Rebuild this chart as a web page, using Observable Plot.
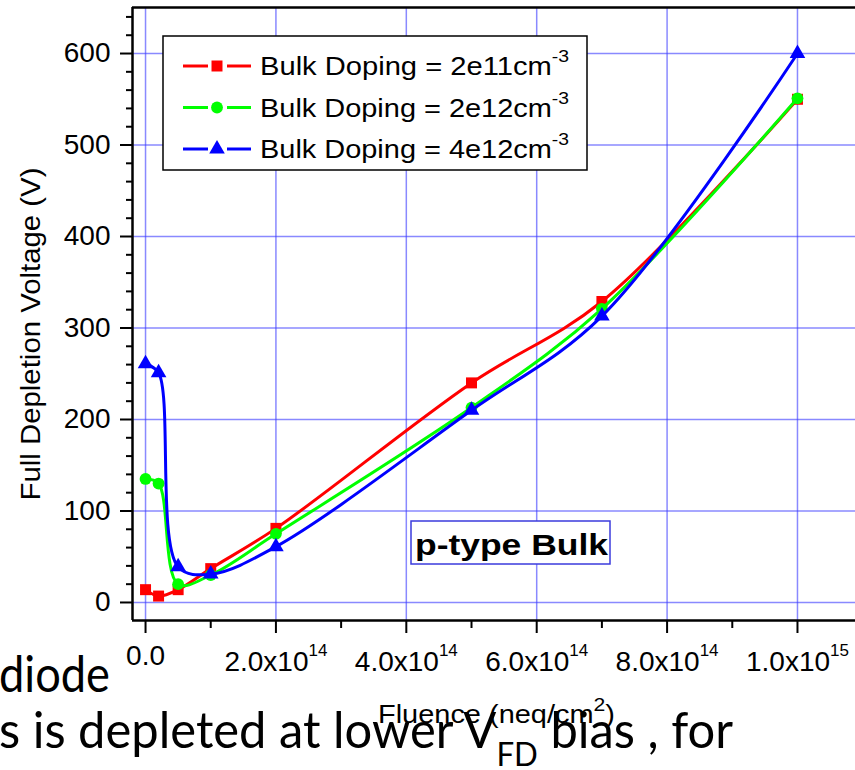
<!DOCTYPE html>
<html><head><meta charset="utf-8">
<script src="https://cdn.jsdelivr.net/npm/d3@7"></script>
<script src="https://cdn.jsdelivr.net/npm/@observablehq/plot@0.6"></script>
<style>
body{margin:0;background:#fff;}
#chart{position:relative;width:855px;height:770px;overflow:hidden;}
</style></head><body><div id="chart"></div>
<script>
// ---- data ----
const fluence    = [0, 2e13, 5e13, 1e14, 2e14, 5e14, 7e14, 1e15];
const doping2e11 = [14, 7, 14, 37, 81, 240, 329, 550];
const doping2e12 = [135, 130, 20, 30, 75, 213, 321, 551];
const doping4e12 = [261, 251, 39, 31, 61, 210, 313, 600];
const seriesNames   = ["Bulk Doping = 2e11cm", "Bulk Doping = 2e12cm", "Bulk Doping = 4e12cm"];
const seriesSup     = "-3";
const seriesColors  = ["#ff0000", "#00ff00", "#0000ff"];
const seriesSymbols = ["square", "circle", "triangle"];
const seriesR       = [6.2, 5.9, 5.8];
const xTicks      = [0, 2e14, 4e14, 6e14, 8e14, 1e15];
const xTickLabels = ["0.0", "2.0x10^14", "4.0x10^14", "6.0x10^14", "8.0x10^14", "1.0x10^15"];
const xMinorTicks = [1e14, 3e14, 5e14, 7e14, 9e14];
const yTicks      = [0, 100, 200, 300, 400, 500, 600];
const yMinorTicks = d3.range(20, 650, 20).filter(v => v % 100 !== 0);
const xDomain = [-2e13, 1.089e15];
const yDomain = [-19.7, 650.3];
const yTitle = "Full Depletion Voltage (V)";
const xTitle = ["Fluence (neq/cm", "2", ")"];
const annotation = "p-type Bulk";
const slideLine1 = "diode";
const slideLine2 = ["s is depleted at lower V", "FD", " bias , for"];

const allValues = [doping2e11, doping2e12, doping4e12];
const series = allValues.map((vals, s) => fluence.map((f, i) => ({s, x: f, y: vals[i]})));

const FONT = "'Liberation Sans', Arial, sans-serif";
const gridStyle = {stroke: "#3a3aff", strokeOpacity: 0.6, strokeWidth: 1.5};

const marks = [
  Plot.gridX(xTicks, gridStyle),
  Plot.gridY(yTicks, gridStyle),
];
series.forEach((d, s) => {
  marks.push(Plot.line(d, {x: "x", y: "y", stroke: seriesColors[s], strokeWidth: 3, curve: "catmull-rom"}));
  marks.push(Plot.dot(d, {x: "x", y: "y", symbol: () => seriesSymbols[s], fill: seriesColors[s], r: seriesR[s]}));
});
marks.push(
  Plot.axisY(yTicks, {tickSize: 12, tickPadding: 10, fontSize: 28, strokeWidth: 2, label: null, tickFormat: d => String(d)}),
  Plot.axisY(yMinorTicks, {tickSize: 6, strokeWidth: 2, label: null, tickFormat: () => ""}),
  Plot.axisX(xTicks, {tickSize: 13, tickPadding: 12, fontSize: 28, strokeWidth: 2, label: null, tickFormat: d => xTickLabels[xTicks.indexOf(d)]}),
  Plot.axisX(xMinorTicks, {tickSize: 8, strokeWidth: 2, label: null, tickFormat: () => ""}),
  Plot.ruleX([xDomain[0]], {strokeWidth: 2.5}),
  Plot.ruleY([yDomain[0]], {strokeWidth: 2.5}),
  Plot.ruleY([yDomain[1]], {strokeWidth: 2.5})
);

const plot = Plot.plot({
  width: 855, height: 770,
  marginLeft: 132, marginRight: 0, marginTop: 7, marginBottom: 150,
  x: {domain: xDomain},
  y: {domain: yDomain},
  style: {fontFamily: FONT, color: "black", background: "white", overflow: "hidden"},
  marks
});
document.getElementById("chart").appendChild(plot);

const svg = d3.select(plot);

// superscripts in x tick labels
svg.selectAll("text").each(function () {
  const t = this.textContent;
  if (t.includes("^")) {
    const [base, sup] = t.split("^");
    const el = d3.select(this);
    el.text("");
    el.append("tspan").attr("dy", 6).text(base);
    el.append("tspan").attr("dy", -15).attr("font-size", 17).text(sup);
  }
});

// axis titles
svg.append("text")
  .attr("transform", "translate(40,334) rotate(-90)")
  .attr("text-anchor", "middle").attr("font-family", FONT).attr("font-size", 28)
  .attr("textLength", 333).attr("lengthAdjust", "spacingAndGlyphs")
  .attr("fill", "black").text(yTitle);

const xt = svg.append("text").attr("x", 378).attr("y", 723)
  .attr("text-anchor", "start").attr("font-family", FONT).attr("font-size", 26)
  .attr("textLength", 237).attr("lengthAdjust", "spacingAndGlyphs").attr("fill", "black");
xt.append("tspan").text(xTitle[0]);
xt.append("tspan").attr("dy", -12).attr("font-size", 19).text(xTitle[1]);
xt.append("tspan").attr("dy", 12).text(xTitle[2]);

// legend
const lg = svg.append("g").attr("text-anchor", "start");
lg.append("rect").attr("x", 163).attr("y", 36).attr("width", 424).attr("height", 134)
  .attr("fill", "white").attr("stroke", "black").attr("stroke-width", 1.5);
const d3Sym = {square: d3.symbolSquare, circle: d3.symbolCircle, triangle: d3.symbolTriangle};
seriesNames.forEach((name, i) => {
  const cy = 66 + 41.5 * i;
  const g = lg.append("g");
  g.append("line").attr("x1", 183).attr("x2", 208).attr("y1", cy).attr("y2", cy)
    .attr("stroke", seriesColors[i]).attr("stroke-width", 3);
  g.append("line").attr("x1", 227).attr("x2", 251).attr("y1", cy).attr("y2", cy)
    .attr("stroke", seriesColors[i]).attr("stroke-width", 3);
  g.append("path").attr("transform", `translate(217,${cy})`)
    .attr("d", d3.symbol(d3Sym[seriesSymbols[i]], Math.PI * seriesR[i] * seriesR[i])())
    .attr("fill", seriesColors[i]);
  const tx = g.append("text").attr("x", 260).attr("y", cy + 9).attr("text-anchor", "start")
    .attr("font-family", FONT).attr("font-size", 25.5).attr("fill", "black")
    .attr("textLength", 309).attr("lengthAdjust", "spacingAndGlyphs");
  tx.append("tspan").text(name);
  tx.append("tspan").attr("dy", -13).attr("font-size", 17).text(seriesSup);
});

// annotation box
svg.append("rect").attr("x", 411).attr("y", 521).attr("width", 199).attr("height", 43)
  .attr("fill", "white").attr("stroke", "#3b3bdd").attr("stroke-width", 1.5);
svg.append("text").attr("x", 415).attr("y", 555).attr("text-anchor", "start")
  .attr("font-family", FONT).attr("font-weight", "bold").attr("font-size", 29)
  .attr("textLength", 193).attr("lengthAdjust", "spacingAndGlyphs")
  .attr("fill", "black").text(annotation);

// surrounding slide text
const SLIDE = "Lato, 'Open Sans', sans-serif";
svg.append("text").attr("x", -1).attr("y", 692).attr("text-anchor", "start")
  .attr("font-family", SLIDE).attr("font-size", 50).attr("fill", "black")
  .attr("textLength", 111).attr("lengthAdjust", "spacingAndGlyphs").text(slideLine1);
const l2 = svg.append("text").attr("x", -1).attr("y", 748).attr("text-anchor", "start")
  .attr("font-family", SLIDE).attr("font-size", 50).attr("fill", "black")
  .attr("textLength", 734).attr("lengthAdjust", "spacingAndGlyphs");
l2.append("tspan").text(slideLine2[0]);
l2.append("tspan").attr("dy", 18).attr("font-size", 32).text(slideLine2[1]);
l2.append("tspan").attr("dy", -18).text(slideLine2[2]);
</script>
</body></html>
